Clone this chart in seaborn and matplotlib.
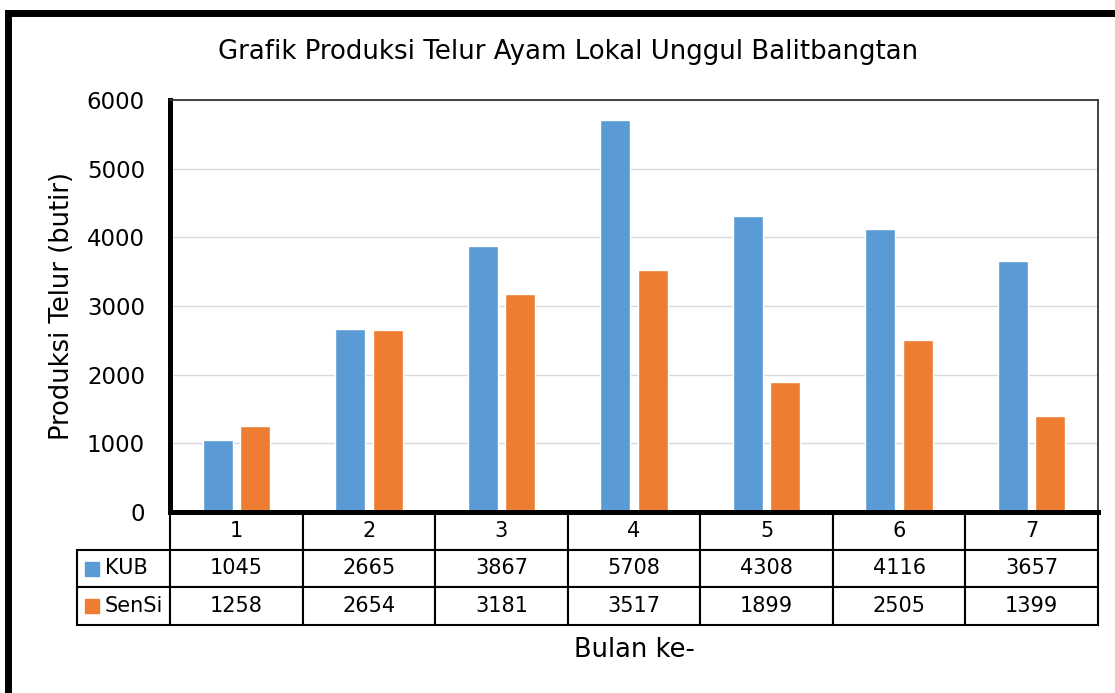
import pandas as pd
import seaborn as sns
import matplotlib.pyplot as plt
from matplotlib.table import Table
from matplotlib.lines import Line2D

months = ['1', '2', '3', '4', '5', '6', '7']
kub = [1045, 2665, 3867, 5708, 4308, 4116, 3657]
sensi = [1258, 2654, 3181, 3517, 1899, 2505, 1399]
series = ['KUB', 'SenSi']
colors = ['#5B9BD5', '#ED7D31']
yticks = [0, 1000, 2000, 3000, 4000, 5000, 6000]

df = pd.DataFrame({
    'Bulan': months * 2,
    'Produksi': kub + sensi,
    'Seri': ['KUB'] * len(kub) + ['SenSi'] * len(sensi),
})

sns.set_style('white')
plt.rcParams['font.family'] = ['DejaVu Sans']
plt.rcParams['text.color'] = 'black'
plt.rcParams['axes.labelcolor'] = 'black'
plt.rcParams['ytick.color'] = 'black'
plt.rcParams['xtick.color'] = 'black'

W, Hpx = 1115, 693
fig = plt.figure(figsize=(W / 100, Hpx / 100), dpi=100)
ax = fig.add_axes([170 / W, 1 - 512 / Hpx, 928 / W, 412 / Hpx])

sns.barplot(data=df, x='Bulan', y='Produksi', hue='Seri', palette=colors,
            width=0.566, gap=0.2, saturation=1, legend=False, ax=ax)

ax.set_xlim(-0.5, len(months) - 0.5)
ax.set_ylim(0, 6000)
ax.set_yticks(yticks)
ax.set_xticks([])
ax.set_xlabel('')
ax.yaxis.grid(True, color='#D9D9D9', lw=1)
ax.set_axisbelow(True)
ax.tick_params(axis='y', length=0, pad=18, labelsize=16.5)
for s in ['left', 'bottom']:
    ax.spines[s].set_linewidth(3.6)
    ax.spines[s].set_color('black')
for s in ['top', 'right']:
    ax.spines[s].set_linewidth(1.3)
    ax.spines[s].set_color('#333333')

ax.set_ylabel('Produksi Telur (butir)', fontsize=18.5)
ax.yaxis.set_label_coords((75 - 170) / 928, 0.5)

# Data table under the plot
H = 113 / 412
tab = Table(ax, bbox=[0, -H, 1, H])
cw = 1 / len(months)
rh = H / 3
for j, m in enumerate(months):
    tab.add_cell(0, j, cw, rh, text=m, loc='center')
for i, (name, vals) in enumerate(zip(series, [kub, sensi]), start=1):
    c = tab.add_cell(i, -1, 93 / 928, rh, text=name, loc='left')
    c.PAD = 0.3
    for j, v in enumerate(vals):
        tab.add_cell(i, j, cw, rh, text=str(v), loc='center')
tab.auto_set_font_size(False)
tab.set_fontsize(15)
for cell in tab.get_celld().values():
    cell.set_edgecolor('black')
    cell.set_linewidth(1.5)
    cell.get_text().set_color('black')
ax.add_table(tab)

# legend keys in the row labels
for i, col in enumerate(colors):
    ax.plot([(92 - 170) / 928], [-H / 2 - i * H / 3], marker='s', ms=10,
            color=col, ls='', transform=ax.transAxes, clip_on=False)

fig.text(568 / W, 1 - 52 / Hpx, 'Grafik Produksi Telur Ayam Lokal Unggul Balitbangtan',
         ha='center', va='center', fontsize=18.7)
fig.text(634 / W, 1 - 650 / Hpx, 'Bulan ke-', ha='center', va='center', fontsize=18.5)

# outer chart frame (cropped on right and bottom)
fig.add_artist(Line2D([8 / W, 1.0], [1 - 12.5 / Hpx] * 2, transform=fig.transFigure,
                      color='black', lw=5, solid_capstyle='projecting'))
fig.add_artist(Line2D([8 / W] * 2, [1 - 12.5 / Hpx, 0.0], transform=fig.transFigure,
                      color='black', lw=5, solid_capstyle='projecting'))

fig.savefig('out.png', dpi=100)
